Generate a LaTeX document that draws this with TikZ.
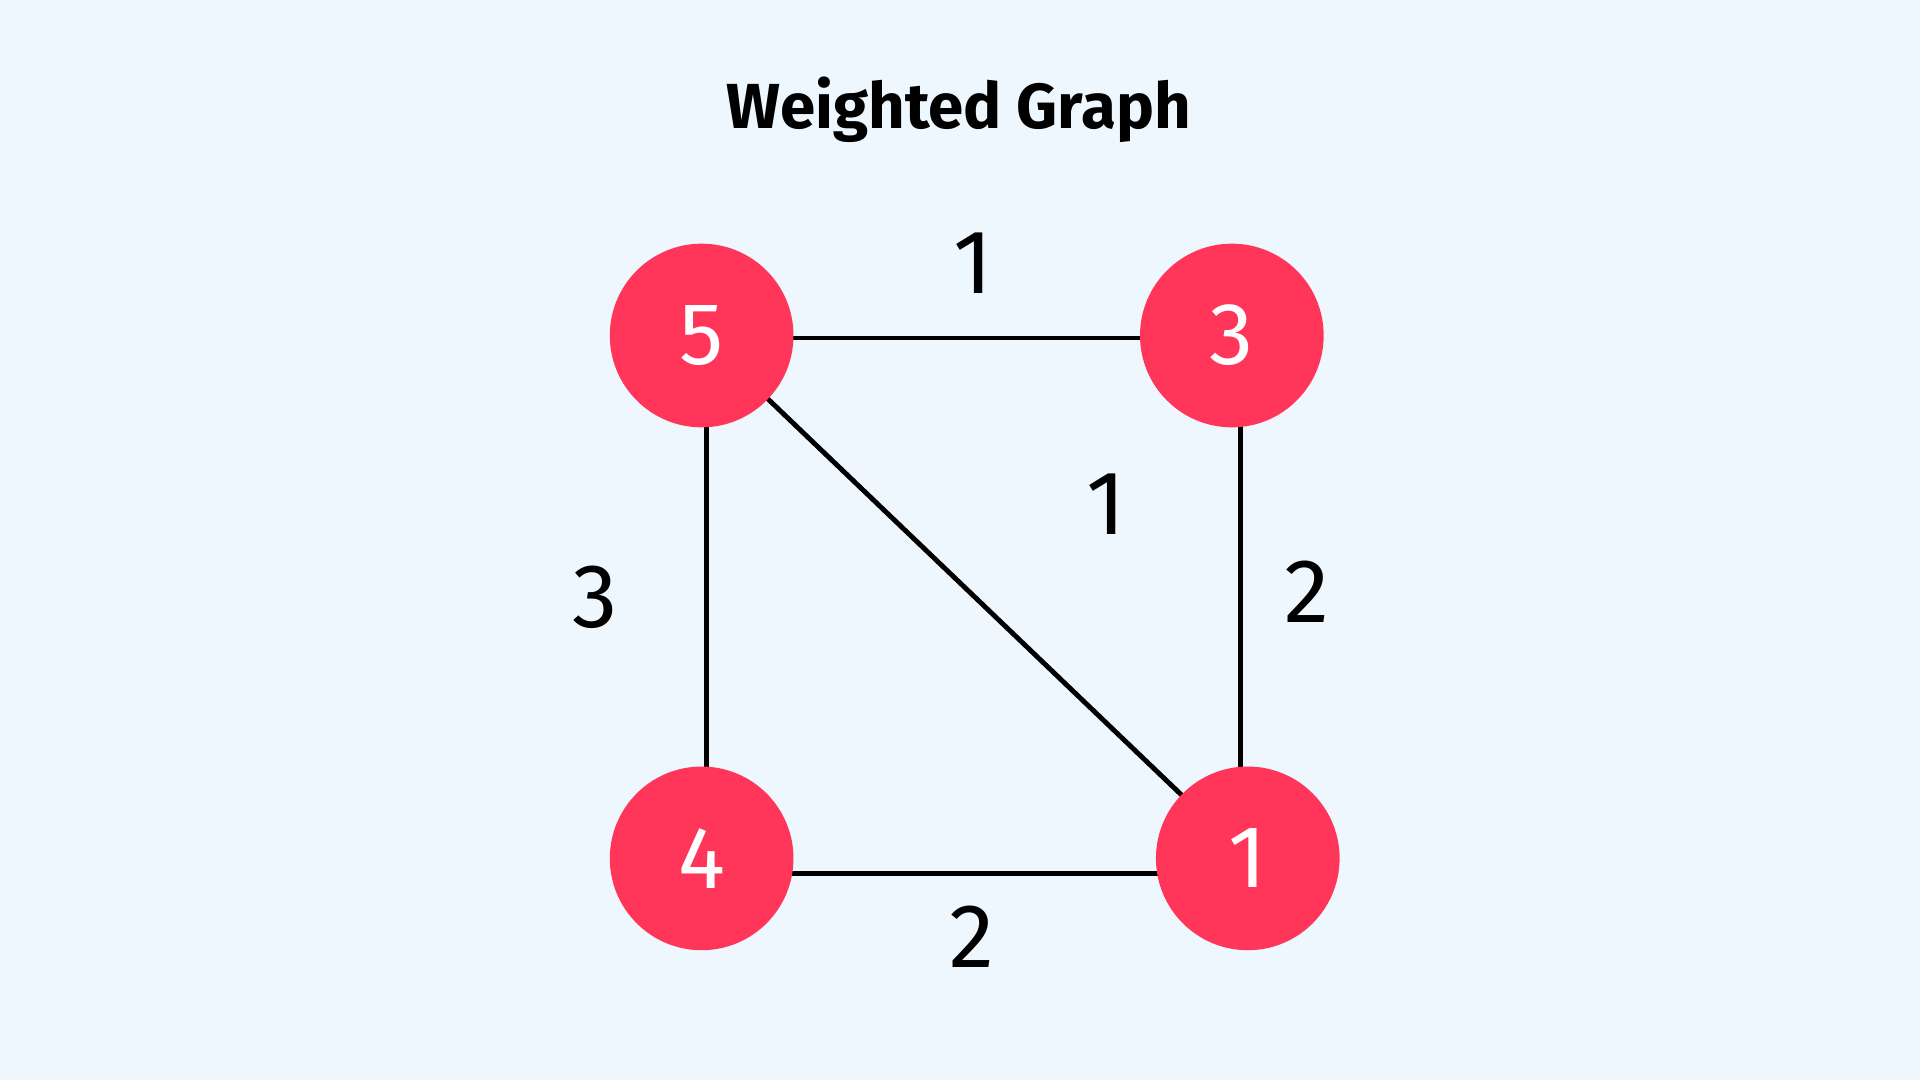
\documentclass[tikz,border=0pt]{standalone}
\usepackage{fontspec}
\setmainfont{Fira Sans}
\usetikzlibrary{calc}
\definecolor{bg}{HTML}{EFF7FE}
\definecolor{nodered}{HTML}{FF3659}
\begin{document}
\begin{tikzpicture}[x=0.5pt,y=-0.5pt,
  vert/.style={circle,fill=nodered,minimum size=75pt,inner sep=0pt,text=white,font=\fontsize{36}{40}\selectfont},
  edge/.style={line width=2pt,black},
  wt/.style={font=\fontsize{37}{40}\selectfont,text=black}]
\fill[bg] (0,0) rectangle (1568,882);
\useasboundingbox (0,0) rectangle (1568,882);
\node[font=\fontsize{26}{30}\selectfont\bfseries] (title) at (783,90) {Weighted Graph};
\coordinate (c5) at (573,274);
\coordinate (c3) at (1006,274);
\coordinate (c4) at (573,701);
\coordinate (c1) at (1019,701);
\draw[edge] ($(c5)+(0,2)$) -- ($(c3)+(0,2)$);
\draw[edge] ($(c5)+(4,0)$) -- ($(c4)+(4,0)$);
\draw[edge] ($(c3)+(7,0)$) -- ($(c1)+(-6,0)$);
\draw[edge] ($(c4)+(0,12)$) -- ($(c1)+(0,12)$);
\draw[edge] (c5) -- (c1);
\node[vert] (n5) at (c5) {5};
\node[vert] (n3) at (c3) {3};
\node[vert] (n4) at (c4) {4};
\node[vert] (n1) at (c1) {1};
\node[wt] (w53) at (795,215) {1};
\node[wt] (w51) at (903,412) {1};
\node[wt] (w54) at (486,488) {3};
\node[wt] (w31) at (1067,483) {2};
\node[wt] (w41) at (794,765) {2};
\end{tikzpicture}
\end{document}
